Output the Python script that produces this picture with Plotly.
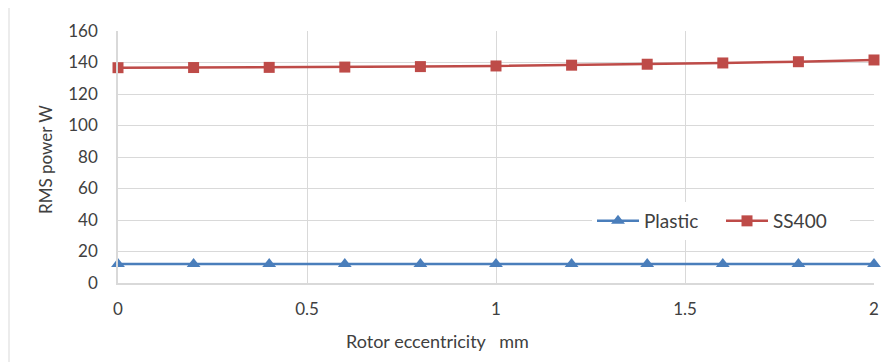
import plotly.graph_objects as go

eccentricity = [0, 0.2, 0.4, 0.6, 0.8, 1.0, 1.2, 1.4, 1.6, 1.8, 2.0]
plastic = [12.0, 12.0, 12.0, 12.0, 12.0, 12.0, 12.0, 12.0, 12.0, 12.0, 12.0]
ss400 = [136.7, 136.8, 136.9, 137.1, 137.4, 137.8, 138.3, 138.9, 139.7, 140.5, 141.6]
x_ticks = [0, 0.5, 1, 1.5, 2]
x_tick_labels = ["0", "0.5", "1", "1.5", "2"]
y_ticks = [0, 20, 40, 60, 80, 100, 120, 140, 160]

FONT = "Lato"
GRID = "#d9d9d9"
TXT = "#404040"
FS = 17

# page body has a default 8px margin; compensate
OFF = 8
W, H = 891 - OFF, 362 - OFF
L, T = 118 - OFF, 31 - OFF
R = 891 - 874
B = 362 - 283
pw, ph = W - L - R, H - T - B

def px(xp):
    return (xp - OFF - L) / pw

def py(yp):
    return (T + ph - (yp - OFF)) / ph

fig = go.Figure()
fig.add_trace(go.Scatter(
    x=eccentricity, y=plastic, name="Plastic", mode="lines+markers",
    line=dict(color="#4a7ebb", width=2.5),
    marker=dict(symbol="triangle-up", size=12, color="#4a7ebb"),
    cliponaxis=False,
))
fig.add_trace(go.Scatter(
    x=eccentricity, y=ss400, name="SS400", mode="lines+markers",
    line=dict(color="#be4b48", width=2.5),
    marker=dict(symbol="square", size=11, color="#be4b48"),
    cliponaxis=False,
))

fig.update_layout(
    width=W, height=H,
    margin=dict(l=L, r=R, t=T, b=B, autoexpand=False),
    paper_bgcolor="white", plot_bgcolor="white",
    font=dict(family=FONT, size=FS, color=TXT),
    showlegend=True,
    legend=dict(
        orientation="h", x=px(592), y=py(221), xanchor="left", yanchor="middle",
        bgcolor="white", font=dict(family=FONT, size=19, color=TXT),
        tracegroupgap=0, entrywidth=72, entrywidthmode="pixels", itemwidth=42,
    ),
    xaxis=dict(
        range=[0, 2], tickvals=x_ticks, ticktext=x_tick_labels,
        showgrid=True, gridcolor=GRID, gridwidth=1,
        showline=True, linecolor=GRID, linewidth=1.5,
        zeroline=False, ticks="outside", ticklen=10, tickcolor="rgba(0,0,0,0)",
        automargin=False,
        tickfont=dict(family=FONT, size=FS, color=TXT),
    ),
    yaxis=dict(
        range=[0, 160], tickvals=y_ticks,
        showgrid=True, gridcolor=GRID, gridwidth=1,
        showline=True, linecolor=GRID, linewidth=1.5,
        zeroline=False, ticks="outside", ticklen=15, tickcolor="rgba(0,0,0,0)",
        automargin=False,
        tickfont=dict(family=FONT, size=FS, color=TXT),
    ),
    annotations=[
        dict(text="Rotor eccentricity\u00a0\u00a0 mm", x=px(437), y=py(341),
             xref="paper", yref="paper", showarrow=False,
             xanchor="center", yanchor="middle",
             font=dict(family=FONT, size=18, color=TXT)),
        dict(text="RMS power W", x=px(45), y=py(160),
             xref="paper", yref="paper", showarrow=False, textangle=-90,
             xanchor="center", yanchor="middle",
             font=dict(family=FONT, size=17, color=TXT)),
    ],
    shapes=[
        dict(type="rect", xref="paper", yref="paper",
             x0=px(9), x1=px(900), y0=py(372), y1=py(7),
             line=dict(color=GRID, width=1), fillcolor="rgba(0,0,0,0)", layer="below"),
    ],
)

fig.write_html("out.html")
